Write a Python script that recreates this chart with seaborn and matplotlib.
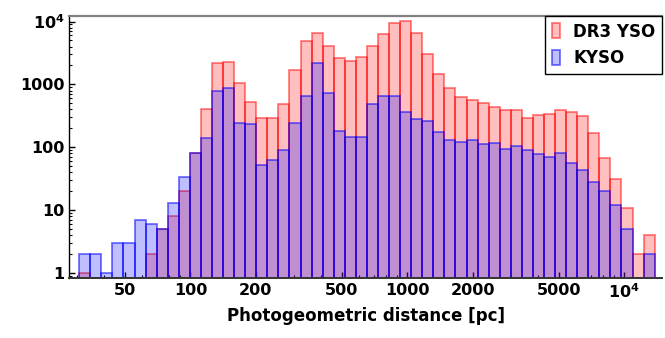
import numpy as np
import pandas as pd
import matplotlib
matplotlib.use("Agg")
import matplotlib.pyplot as plt
import seaborn as sns

# counts per logarithmic distance bin (52 bins, ~30.7 pc to ~13.8 kpc)
bin_lo = 30.7
bin_hi = 13830
n_bins = 52

dr3_counts = [1, 0, 0, 0, 0, 0, 2, 5, 8, 20, 82, 401, 2155, 2235, 1060, 530,
              295, 295, 482, 1687, 4920, 6460, 4055, 2590, 2318, 2746, 4055,
              6360, 9640, 10230, 6680, 3100, 1442, 883, 635, 564, 511, 436,
              391, 391, 295, 322, 334, 387, 363, 311, 171, 68, 31, 11, 2, 4]
kyso_counts = [2, 2, 1, 3, 3, 7, 6, 5, 13, 34, 80, 139, 792, 864, 246, 232,
               52, 62, 90, 246, 652, 2155, 720, 181, 144, 147, 482, 652, 652,
               367, 278, 261, 173, 131, 123, 129, 112, 118, 95, 105, 90, 77,
               70, 82, 57, 44, 28, 20, 12, 5, 0, 2]

x_ticks = [50, 100, 200, 500, 1000, 2000, 5000, 10000]
x_tick_labels = ["50", "100", "200", "500", "1000", "2000", "5000", r"$10^4$"]
y_ticks = [1, 10, 100, 1000, 10000]
y_tick_labels = ["1", "10", "100", "1000", r"$10^4$"]

log_lo, log_hi = np.log10(bin_lo), np.log10(bin_hi)
step = (log_hi - log_lo) / n_bins
centers = 10 ** (log_lo + step * (np.arange(n_bins) + 0.5))

data = pd.DataFrame({"distance": centers, "DR3": dr3_counts, "KYSO": kyso_counts})

sns.set_style("ticks")
plt.rcParams["font.family"] = ["DejaVu Sans"]
plt.rcParams["font.weight"] = "bold"
plt.rcParams["mathtext.fontset"] = "dejavusans"
plt.rcParams["mathtext.default"] = "bf"
plt.rcParams["text.color"] = "black"
plt.rcParams["axes.labelcolor"] = "black"
plt.rcParams["xtick.color"] = "black"
plt.rcParams["ytick.color"] = "black"

fig = plt.figure(figsize=(6.65, 3.38), dpi=100)
ax = fig.add_axes([0.104, 0.178, 0.892, 0.775])

sns.histplot(data=data, x="distance", weights="DR3", bins=n_bins,
             binrange=(log_lo, log_hi), log_scale=True, ax=ax,
             color="red", alpha=0.25, edgecolor=(1, 0, 0, 0.5),
             linewidth=1.3, label="DR3 YSO")
sns.histplot(data=data, x="distance", weights="KYSO", bins=n_bins,
             binrange=(log_lo, log_hi), log_scale=True, ax=ax,
             color="blue", alpha=0.25, edgecolor=(0, 0, 1, 0.55),
             linewidth=1.3, label="KYSO")

ax.set_yscale("log")
ax.set_xlim(27.6, 15000)
ax.set_ylim(0.84, 12300)
ax.set_xticks(x_ticks, labels=x_tick_labels)
ax.set_yticks(y_ticks, labels=y_tick_labels)
ax.tick_params(axis="both", which="both", direction="in", labelsize=11.5)
ax.tick_params(axis="both", which="major", length=4, width=1)
ax.tick_params(axis="both", which="minor", length=2, width=0.8)
ax.set_xlabel("Photogeometric distance [pc]", fontsize=12, fontweight="bold")
ax.set_ylabel("")

ax.spines["top"].set_color("#808080")
ax.spines["top"].set_linewidth(1.6)
ax.spines["right"].set_visible(False)
ax.spines["left"].set_color("black")
ax.spines["left"].set_linewidth(1.0)
ax.spines["bottom"].set_color("#333333")
ax.spines["bottom"].set_linewidth(1.4)

leg = ax.legend(loc="upper right", bbox_to_anchor=(1.0, 1.0), borderaxespad=0,
                fancybox=False, framealpha=1, edgecolor="black",
                handlelength=0.5, handleheight=1.0, handletextpad=0.8,
                prop={"size": 12, "weight": "bold"})
leg.get_frame().set_linewidth(1.0)

fig.savefig("out.png", dpi=100)
